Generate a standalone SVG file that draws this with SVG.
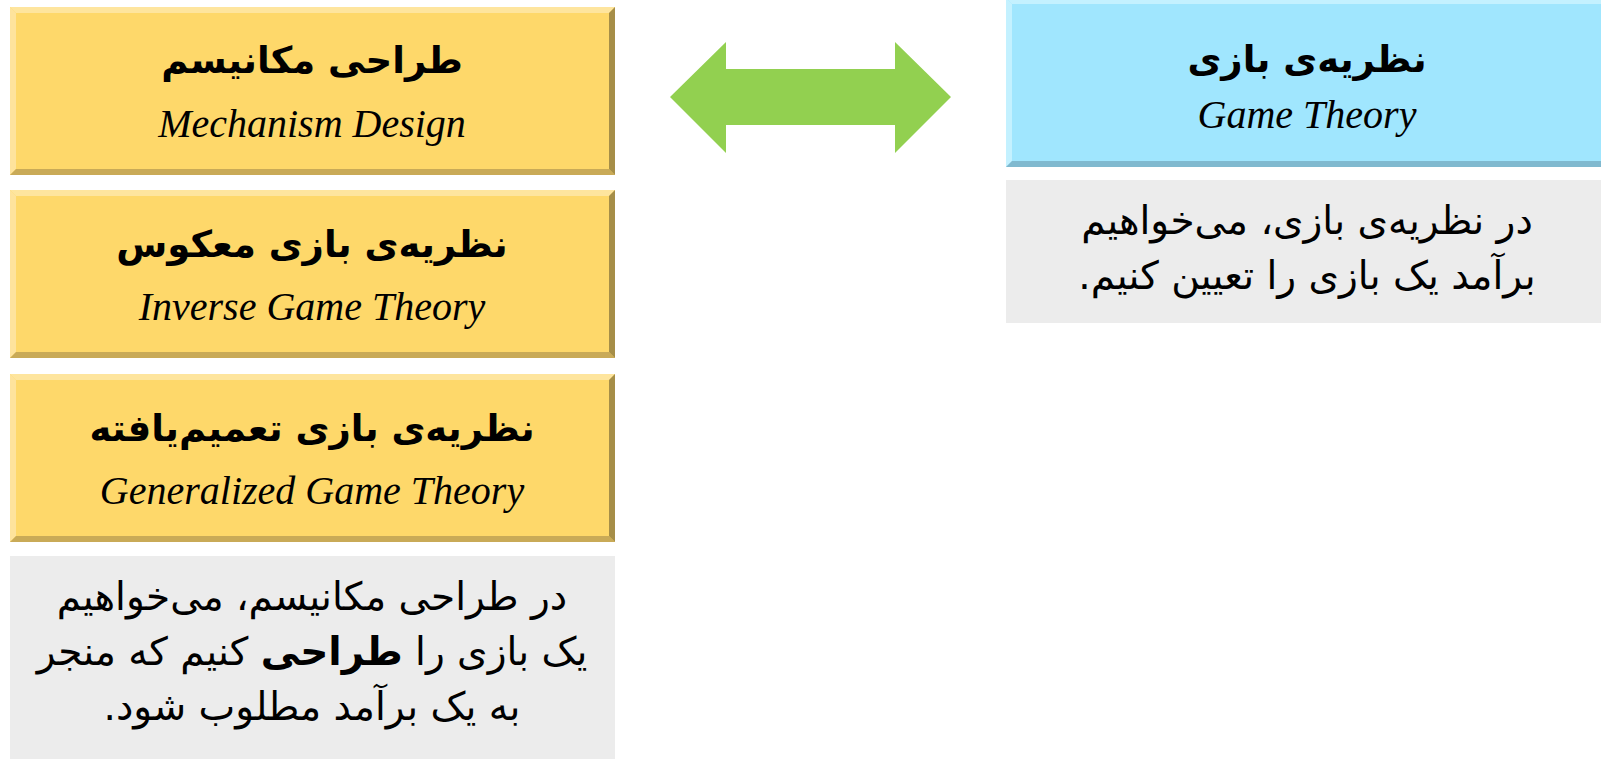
<svg xmlns="http://www.w3.org/2000/svg" width="1601" height="759" viewBox="0 0 1601 759">
<style>
.fa-title{font-family:"DejaVu Sans",sans-serif;font-weight:bold;font-size:37px;fill:#000;text-anchor:middle;direction:rtl}
.en{font-family:"Liberation Serif",serif;font-style:italic;font-size:40px;fill:#000;text-anchor:middle}
.fa-body{font-family:"DejaVu Sans",sans-serif;font-size:39px;fill:#000;text-anchor:middle;direction:rtl}
.y-fill{fill:#FED86A}.y-top{fill:#FEE59E}.y-left{fill:#FEE39C}.y-bot{fill:#C9AA57}.y-right{fill:#A68E48}
.b-fill{fill:#A0E6FE}.b-top{fill:#C4F1FF}.b-left{fill:#C4F1FF}.b-bot{fill:#80B9CF}
.gray{fill:#ECECEC}
.arrow{fill:#92D050}
</style>
<rect width="1601" height="759" fill="#FFFFFF"/>
<g id="connectors">
<polygon class="arrow" points="670,97 726,42 726,69 895,69 895,42 951,97 895,153 895,125 726,125 726,153"/>
</g>
<g id="mechanism-design">
<rect class="y-fill" x="10" y="7" width="605" height="168"/>
<polygon class="y-top" points="10,7 615,7 609,13 16,13"/>
<polygon class="y-left" points="10,7 16,13 16,169 10,175"/>
<polygon class="y-bot" points="10,175 16,169 609,169 615,175"/>
<polygon class="y-right" points="615,7 615,175 609,169 609,13"/>
<text class="fa-title" x="312" y="73">طراحی مکانیسم</text>
<text class="en" x="312" y="137">Mechanism Design</text>
</g>
<g id="inverse-game-theory">
<rect class="y-fill" x="10" y="190" width="605" height="168"/>
<polygon class="y-top" points="10,190 615,190 609,196 16,196"/>
<polygon class="y-left" points="10,190 16,196 16,352 10,358"/>
<polygon class="y-bot" points="10,358 16,352 609,352 615,358"/>
<polygon class="y-right" points="615,190 615,358 609,352 609,196"/>
<text class="fa-title" x="312" y="257">نظریه‌ی بازی معکوس</text>
<text class="en" x="312" y="320">Inverse Game Theory</text>
</g>
<g id="generalized-game-theory">
<rect class="y-fill" x="10" y="374" width="605" height="168"/>
<polygon class="y-top" points="10,374 615,374 609,380 16,380"/>
<polygon class="y-left" points="10,374 16,380 16,536 10,542"/>
<polygon class="y-bot" points="10,542 16,536 609,536 615,542"/>
<polygon class="y-right" points="615,374 615,542 609,536 609,380"/>
<text class="fa-title" x="312" y="441">نظریه‌ی بازی تعمیم‌یافته</text>
<text class="en" x="312" y="504">Generalized Game Theory</text>
</g>
<g id="mechanism-design-note">
<rect class="gray" x="10" y="556" width="605" height="210"/>
<text class="fa-body" x="312" y="610">در طراحی مکانیسم، می‌خواهیم</text>
<text class="fa-body" x="312" y="665">یک بازی را <tspan font-weight="bold">طراحی</tspan> کنیم که منجر</text>
<text class="fa-body" x="312" y="720">به یک برآمد مطلوب شود.</text>
</g>
<g id="game-theory">
<rect class="b-fill" x="1006" y="-2" width="600" height="169"/>
<polygon class="b-top" points="1006,-2 1606,-2 1606,4 1012,4"/>
<polygon class="b-left" points="1006,-2 1012,4 1012,161 1006,167"/>
<polygon class="b-bot" points="1006,167 1012,161 1606,161 1606,167"/>
<text class="fa-title" x="1307" y="72">نظریه‌ی بازی</text>
<text class="en" x="1307" y="128">Game Theory</text>
</g>
<g id="game-theory-note">
<rect class="gray" x="1006" y="180" width="600" height="143"/>
<text class="fa-body" x="1307" y="234">در نظریه‌ی بازی، می‌خواهیم</text>
<text class="fa-body" x="1307" y="289">برآمد یک بازی را تعیین کنیم.</text>
</g>
</svg>
